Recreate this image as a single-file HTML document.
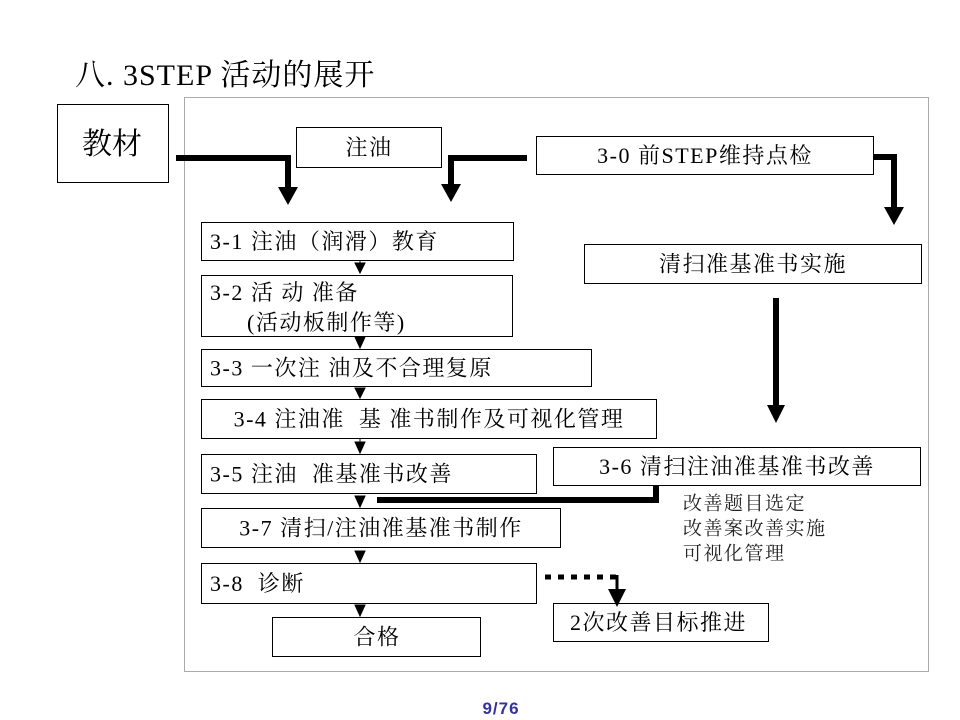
<!DOCTYPE html>
<html>
<head>
<meta charset="utf-8">
<style>
html,body{margin:0;padding:0;background:#fff;}
svg{display:block;}
text{font-family:"Liberation Serif","Noto Serif CJK SC",serif;fill:#000;white-space:pre;}
.b{font-size:22px;letter-spacing:1.5px;}
.n{font-size:19px;letter-spacing:1.5px;fill:#222;}
</style>
</head>
<body>
<svg width="960" height="720" viewBox="0 0 960 720" xmlns="http://www.w3.org/2000/svg" xml:space="preserve">
  <!-- title -->
  <text x="75" y="85" style="font-size:30px;letter-spacing:1px;">八. 3STEP 活动的展开</text>

  <!-- container -->
  <rect x="184.5" y="97.5" width="744" height="574" fill="none" stroke="#555" stroke-width="1" stroke-dasharray="1 1"/>

  <!-- boxes -->
  <g fill="#fff" stroke="#000" stroke-width="1">
    <rect x="57.5" y="104.5" width="111" height="78"/>
    <rect x="296.5" y="127.5" width="145" height="40"/>
    <rect x="536.5" y="136.5" width="337" height="38"/>
    <rect x="584.5" y="244.5" width="337" height="39"/>
    <rect x="201.5" y="222.5" width="312" height="38"/>
    <rect x="201.5" y="275.5" width="311" height="61"/>
    <rect x="201.5" y="349.5" width="390" height="37"/>
    <rect x="201.5" y="399.5" width="455" height="39"/>
    <rect x="201.5" y="454.5" width="335" height="39"/>
    <rect x="553.5" y="447.5" width="367" height="38"/>
    <rect x="201.5" y="508.5" width="359" height="39"/>
    <rect x="201.5" y="563.5" width="335" height="40"/>
    <rect x="272.5" y="617.5" width="208" height="39"/>
    <rect x="553.5" y="603.5" width="215" height="38"/>
  </g>

  <!-- box texts -->
  <text x="112" y="154" text-anchor="middle" style="font-size:30px;">教材</text>
  <text class="b" x="369" y="155" text-anchor="middle">注油</text>
  <text class="b" x="705" y="163" text-anchor="middle">3-0 前STEP维持点检</text>
  <text class="b" x="753" y="271.5" text-anchor="middle">清扫准基准书实施</text>
  <text class="b" x="210" y="249">3-1 注油（润滑）教育</text>
  <text class="b" x="210" y="300">3-2 活 动 准备</text>
  <text class="b" x="247" y="330">(活动板制作等)</text>
  <text class="b" x="210" y="375.5">3-3 一次注 油及不合理复原</text>
  <text class="b" x="429" y="426.5" text-anchor="middle">3-4 注油准  基 准书制作及可视化管理</text>
  <text class="b" x="210" y="481.5">3-5 注油  准基准书改善</text>
  <text class="b" x="737" y="474" text-anchor="middle">3-6 清扫注油准基准书改善</text>
  <text class="b" x="381" y="535.5" text-anchor="middle">3-7 清扫/注油准基准书制作</text>
  <text class="b" x="210" y="591">3-8  诊断</text>
  <text class="b" x="377" y="644.5" text-anchor="middle">合格</text>
  <text class="b" x="570" y="630">2次改善目标推进</text>

  <!-- notes -->
  <text class="n" x="683" y="509.5">改善题目选定</text>
  <text class="n" x="683" y="534.5">改善案改善实施</text>
  <text class="n" x="683" y="559.5">可视化管理</text>

  <!-- thick arrows -->
  <g fill="none" stroke="#000" stroke-width="6" stroke-linejoin="miter" stroke-linecap="butt">
    <polyline points="176,158 288,158 288,189"/>
    <polyline points="527,158 451,158 451,186"/>
    <polyline points="873,157 894,157 894,209"/>
    <line x1="776" y1="298" x2="776" y2="407"/>
    <polyline points="656,485 656,500 377,500"/>
  </g>
  <g fill="#000">
    <polygon points="278,187 298,187 288,205"/>
    <polygon points="441,184 461,184 451,202"/>
    <polygon points="884,207 904,207 894,225"/>
    <polygon points="767,405 785,405 776,423"/>
  </g>

  <!-- dotted arrow -->
  <line x1="545" y1="577" x2="621" y2="577" stroke="#000" stroke-width="5" stroke-dasharray="6 7"/>
  <line x1="617" y1="575" x2="617" y2="591" stroke="#000" stroke-width="3"/>
  <polygon points="608,589 626,589 617,607" fill="#000"/>

  <!-- small arrows -->
  <g fill="#000" stroke="#000" stroke-width="1">
    <line x1="360" y1="260" x2="360" y2="264"/>
    <polygon points="355,263 365,263 360,273"/>
    <polygon points="355,337 365,337 360,348"/>
    <polygon points="355,388 365,388 360,398"/>
    <line x1="360" y1="438" x2="360" y2="443"/>
    <polygon points="355,442 365,442 360,453"/>
    <polygon points="355,496 365,496 360,507"/>
    <polygon points="355,551 365,551 360,562"/>
    <polygon points="355,605 365,605 360,616"/>
  </g>

  <!-- page number -->
  <text x="501" y="714" text-anchor="middle" style="font-family:'Liberation Sans',sans-serif;font-size:17px;font-weight:bold;fill:#333399;letter-spacing:1px;">9/76</text>
</svg>
</body>
</html>
